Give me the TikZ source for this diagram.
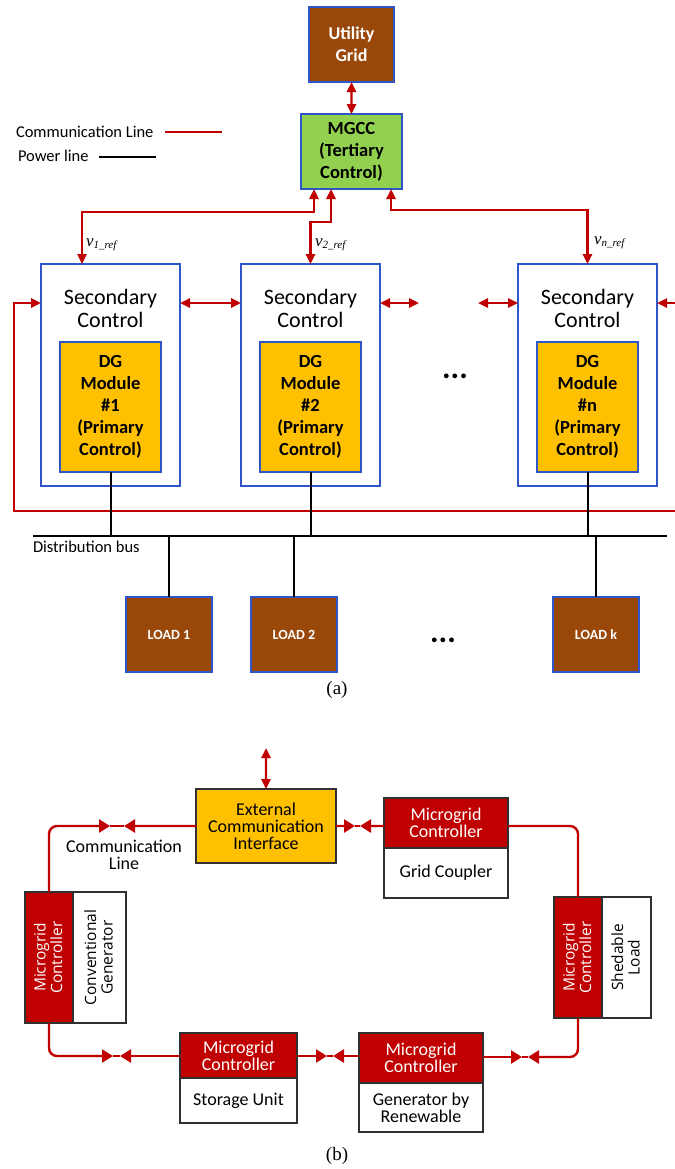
\documentclass[tikz,border=0pt]{standalone}
\usepackage{fontspec}
\setmainfont{Carlito}
\newfontfamily\rotfont{Open Sans}
\newfontfamily\tmsfont{Liberation Serif}
\usetikzlibrary{arrows.meta,calc}
\definecolor{cred}{HTML}{C00000}
\definecolor{bblue}{HTML}{2E56C9}
\definecolor{loadbrown}{HTML}{9A480A}
\definecolor{lgreen}{HTML}{92D050}
\definecolor{amber}{HTML}{FFC000}
\definecolor{edge}{HTML}{303030}
\newcommand\fsz[2]{\fontsize{#1bp}{#2bp}\selectfont}
\newcommand\vref[1]{\textit{\tmsfont\fsz{17}{17}v}\raisebox{-2.5bp}{\tmsfont\itshape\fsz{11}{11}#1\_ref}}
\begin{document}
\begin{tikzpicture}[x=1bp,y=-1bp,
  every node/.style={inner sep=0pt, outer sep=0pt},
  >={Triangle[length=10bp,width=9bp]},
  blk/.style={draw=bblue, line width=1.4bp, anchor=north west, align=center},
  unit/.style={draw=edge, line width=1.2bp, anchor=north west, align=center},
  comm/.style={draw=cred, line width=2.4bp},
  pow/.style={draw=black, line width=2bp},
  bow/.style={comm, -{Triangle[length=11bp,width=13bp]}},
  bigtxt/.style={font=\fsz{22}{23}},
  boldtxt/.style={font=\bfseries\fsz{18.5}{22}},
  btxt/.style={font=\fsz{18}{17}},
  rtxt/.style={font=\rotfont\fsz{15.5}{16.5}, rotate=90, align=center},
  ellip/.style={font=\bfseries\fsz{32}{32}}
]
\useasboundingbox (0,0) rectangle (675,1169);

% ---------------- (a) hierarchical control ----------------
\node[blk, fill=loadbrown, minimum width=85bp, minimum height=75bp,
      text=white, font=\bfseries\fsz{18}{22}] (ug) at (309,7) {Utility\\Grid};
\node[blk, fill=lgreen, minimum width=101bp, minimum height=75bp,
      font=\bfseries\fsz{18.5}{22}] (mgcc) at (301,114) {MGCC\\(Tertiary\\Control)};

% legend
\node[anchor=west, font=\fsz{16.5}{16}] (lgc) at (16,132) {Communication Line};
\node[anchor=west, font=\fsz{16.5}{16}] (lgp) at (18,156) {Power line};
\coordinate (lc1) at (165,132); \coordinate (lc2) at (222,132);
\coordinate (lp1) at (99,157);  \coordinate (lp2) at (156,157);
\draw[comm] (lc1) -- (lc2);
\draw[pow] (lp1) -- (lp2);

% secondary control boxes with DG modules
\foreach \n/\x/\lbl in {1/41/1, 2/241/2, n/518/n}{
  \node[blk, fill=white, minimum width=139bp, minimum height=222bp] (sec\n) at (\x,264) {};
  \node[bigtxt, align=center] (st\n) at ($(sec\n.north)+(0,44)$) {Secondary\\Control};
  \node[blk, fill=amber, minimum width=101bp, minimum height=130bp, boldtxt]
       (dg\n) at ($(sec\n.north west)+(19,78)$) {DG\\Module\\\#\lbl\\(Primary\\Control)};
}

\node[ellip] (dots1) at (455,376) {...};

% tertiary <-> secondary links
\draw[comm,<->] (ug.south) -- (mgcc.north);
\draw[comm,<->] ($(mgcc.south west)+(13,0)$) -- ++(0,23) -| ($(sec1.north west)+(41,0)$);
\draw[comm,<->] ($(mgcc.south west)+(30,0)$) -- ++(0,33) -| (sec2.north);
\draw[comm,<->] ($(mgcc.south east)+(-11,0)$) -- ++(0,21) -| (secn.north);

\node[anchor=west] (v1) at (86,245) {\vref{1}};
\node[anchor=west] (v2) at (315,245) {\vref{2}};
\node[anchor=west] (vn) at (594,243) {\vref{n}};

% secondary <-> secondary links
\coordinate (c2r) at (419,303);
\coordinate (cnl) at (478,303);
\coordinate (rin) at (675,303);
\coordinate (loopR) at (675,511);
\draw[comm,<->] ($(sec1.north east)+(0,39)$) -- ($(sec2.north west)+(0,39)$);
\draw[comm,<->] ($(sec2.north east)+(0,39)$) -- (c2r);
\draw[comm,<->] (cnl) -- ($(secn.north west)+(0,39)$);
\draw[comm,->] (rin) -- ($(secn.north east)+(0,39)$);
\draw[comm,->] (loopR) -| ($(sec1.north west)+(-27,39)$) -- ($(sec1.north west)+(0,39)$);

% distribution bus and loads
\coordinate (busL) at (33,536);
\coordinate (busR) at (667,536);
\draw[pow] (busL) -- (busR);
\node[anchor=west, font=\fsz{16.5}{16}] (busl) at (33,547) {Distribution bus};
\foreach \n in {1,2,n}{ \draw[pow] (dg\n.south) -- (dg\n.south |- busL); }

\foreach \k/\x/\lbl in {1/126/LOAD 1, 2/251/LOAD 2, k/553/LOAD k}{
  \node[blk, fill=loadbrown, minimum width=86bp, minimum height=75bp,
        text=white, font=\bfseries\fsz{14}{14}] (load\k) at (\x,597) {\lbl};
  \draw[pow] (load\k.north) -- (load\k.north |- busL);
}
\node[ellip] (dots2) at (443,640) {...};

\node[font=\tmsfont\fsz{19}{19}] (capa) at (337,690) {(a)};

% ---------------- (b) communication ring ----------------
\node[unit, fill=amber, minimum width=140bp, minimum height=74bp, btxt] (eci) at (196,789)
     {External\\Communication\\Interface};
\coordinate (ext) at (266,748);
\draw[comm,<->] (eci.north) -- (ext);

% grid coupler
\node[unit, fill=cred, text=white, minimum width=124bp, minimum height=50bp, btxt] (gcmc) at (384,798)
     {Microgrid\\Controller};
\node[unit, fill=white, minimum width=124bp, minimum height=50bp, btxt] (gcb) at (384,848)
     {\raisebox{-5bp}{Grid Coupler}};

% conventional generator
\node[unit, fill=cred, minimum width=48bp, minimum height=131bp] (cgmc) at (25,892) {};
\node[unit, fill=white, minimum width=53bp, minimum height=131bp] (cgb) at (73,892) {};
\node[rtxt, text=white] at ($(cgmc.center)+(-1,0)$) {Microgrid\\Controller};
\node[rtxt] at ($(cgb.center)+(-1,0)$) {Conventional\\Generator};

% shedable load
\node[unit, fill=cred, minimum width=48bp, minimum height=121bp] (slmc) at (554,897) {};
\node[unit, fill=white, minimum width=49bp, minimum height=121bp] (slb) at (602,897) {};
\node[rtxt, text=white] at ($(slmc.center)+(-1,0)$) {Microgrid\\Controller};
\node[rtxt] at ($(slb.center)+(-1,0)$) {Shedable\\Load};

% storage unit
\node[unit, fill=cred, text=white, minimum width=117bp, minimum height=45bp, btxt] (sumc) at (180,1033)
     {Microgrid\\Controller};
\node[unit, fill=white, minimum width=117bp, minimum height=45bp, btxt] (sub) at (180,1078)
     {\raisebox{-3bp}{Storage Unit}};

% renewable generator
\node[unit, fill=cred, text=white, minimum width=124bp, minimum height=50bp, btxt] (rgmc) at (359,1033)
     {Microgrid\\Controller};
\node[unit, fill=white, minimum width=124bp, minimum height=49bp, btxt] (rgb) at (359,1083)
     {Generator by\\Renewable};

\node[btxt, align=center] (cline) at (124,855) {Communication\\Line};

% ring links, each with a pair of facing arrow heads
\coordinate (t1a) at (110,826); \coordinate (t1b) at (124,826);
\coordinate (t2a) at (355,826); \coordinate (t2b) at (360,826);
\coordinate (m1a) at (113,1056); \coordinate (m1b) at (120,1056);
\coordinate (m2a) at (327,1056); \coordinate (m2b) at (333,1056);
\coordinate (m3a) at (522,1057); \coordinate (m3b) at (528,1057);

\draw[bow, rounded corners=8bp] (cgmc.north) |- (t1a);
\draw[bow] (eci.west) -- (t1b);
\draw[bow] (eci.east) -- (t2a);
\draw[bow] (eci.east -| gcmc.west) -- (t2b);
\draw[comm, rounded corners=8bp] (eci.east -| gcmc.east) -| (slmc.north);

\draw[bow, rounded corners=8bp] (cgmc.south) |- (m1a);
\draw[comm] (m1a) -- (m1b);
\draw[bow] (sumc.west |- m1b) -- (m1b);
\draw[bow] (sumc.east |- m2a) -- (m2a);
\draw[comm] (m2a) -- (m2b);
\draw[bow] (rgmc.west |- m2b) -- (m2b);
\draw[bow] (rgmc.east |- m3a) -- (m3a);
\draw[comm] (m3a) -- (m3b);
\draw[bow, rounded corners=8bp] (slmc.south) |- (m3b);
\draw[comm] (t1a) -- (t1b);
\draw[comm] (t2a) -- (t2b);

\node[font=\tmsfont\fsz{19}{19}] (capb) at (337,1156) {(b)};
\end{tikzpicture}
\end{document}
